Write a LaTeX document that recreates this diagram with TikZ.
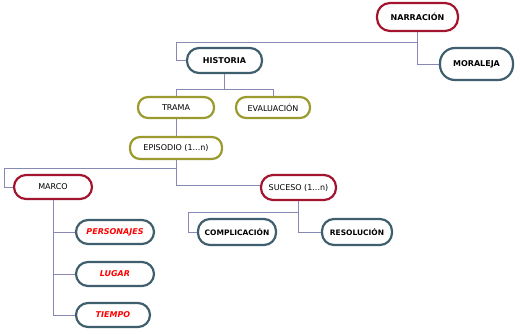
\documentclass[tikz,border=0pt]{standalone}
\usepackage{fontspec}
\setmainfont{DejaVu Sans}
\usetikzlibrary{positioning}

\definecolor{rojo}{HTML}{A3152F}
\definecolor{pizarra}{HTML}{3F5F6E}
\definecolor{oliva}{HTML}{9A9A2E}
\definecolor{linea}{HTML}{8888B4}

\begin{document}
\begin{tikzpicture}[x=1pt, y=-1pt,
        n/.style={rectangle, draw, line width=2.2pt, fill=white, inner sep=0pt,
                  align=center, font=\fontsize{8}{9}\selectfont},
        nb/.style={font=\fontsize{8}{9}\selectfont\bfseries},
        nr/.style={n, draw=rojo, minimum height=25pt, rounded corners=12pt},
        ns/.style={n, draw=pizarra, minimum height=25pt, rounded corners=12pt},
        no/.style={n, draw=oliva, minimum height=21pt, rounded corners=10pt},
        hoja/.style={ns, font=\fontsize{8}{9}\selectfont\bfseries\itshape, text=red},
        ln/.style={draw=linea, line width=0.8pt}]
      \useasboundingbox (0,0) rectangle (520,333);
      \node[nr, nb, minimum width=81pt, minimum height=28pt, rounded corners=13pt] (narr) at (417.5,17) {NARRACIÓN};
      \node[ns, nb, minimum width=73pt, minimum height=32pt, rounded corners=15pt] (moral) at (476.5,64) {MORALEJA};
      \node[ns, nb, minimum width=75pt] (hist) at (224.5,60.5) {HISTORIA};
      \node[no, minimum width=76pt] (trama) at (176,107.5) {TRAMA};
      \node[no, minimum width=74pt] (eval) at (273,107.5) {EVALUACIÓN};
      \node[no, minimum width=92pt, minimum height=22pt] (epi) at (176,148) {EPISODIO (1...n)};
      \node[nr, minimum width=78pt, minimum height=24pt] (marco) at (53,187) {MARCO};
      \node[nr, minimum width=75pt] (suceso) at (298.5,187.5) {SUCESO (1...n)};
      \node[ns, minimum width=78pt, minimum height=26pt, font=\fontsize{7.5}{9}\selectfont\bfseries] (compl) at (237,232) {COMPLICACIÓN};
      \node[ns, minimum width=70pt, minimum height=26pt, font=\fontsize{7.5}{9}\selectfont\bfseries] (resol) at (357,232) {RESOLUCIÓN};
      \node[hoja, minimum width=78pt, minimum height=24pt] (pers) at (115,232) {PERSONAJES};
      \node[hoja, minimum width=78pt, minimum height=24pt] (lugar) at (115,274) {LUGAR};
      \node[hoja, minimum width=74pt, minimum height=24pt] (tiempo) at (113,315) {TIEMPO};
      % conectores
      \draw[ln] (narr.south) -- ++(0,10) -| ([xshift=-10pt]hist.west) -- (hist.west);
      \draw[ln] (narr.south) |- (moral.west);
      \draw[ln] (hist.south) -- ++(0,15) -| (trama.north);
      \draw[ln] (hist.south) -- ++(0,15) -| (eval.north);
      \draw[ln] (trama) -- (epi);
      \draw[ln] (epi.south) -- ++(0,8) -| ([xshift=-9pt]marco.west) -- (marco.west);
      \draw[ln] (epi.south) |- ([yshift=2pt]suceso.west);
      \draw[ln] (marco.south) |- (pers.west);
      \draw[ln] (marco.south) |- (lugar.west);
      \draw[ln] (marco.south) |- (tiempo.west);
      \draw[ln] (suceso.south) -- ++(0,11) -| ([xshift=-9pt]compl.west) -- (compl.west);
      \draw[ln] (suceso.south) |- (resol.west);
    \end{tikzpicture}
\end{document}
